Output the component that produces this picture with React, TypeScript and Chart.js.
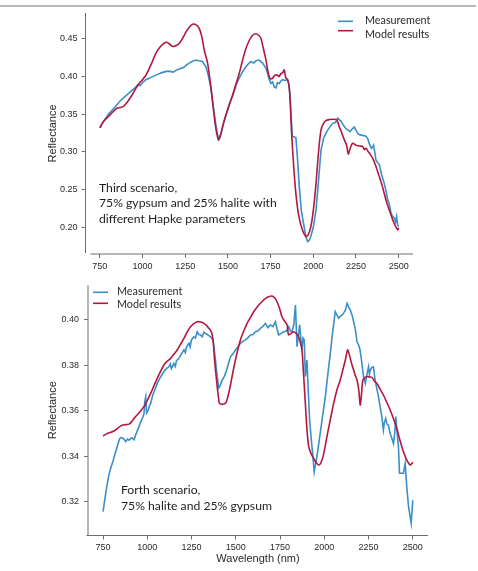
import { useEffect, useRef } from "react";
import { Chart, registerables } from "chart.js";

Chart.register(...registerables);

// ---- Third scenario: 75% gypsum / 25% halite ----
const topMeasurementNm = [750, 770, 800, 844, 870, 900, 930, 960, 975, 985, 1000, 1020, 1050, 1078, 1110, 1137, 1160, 1180, 1200, 1215, 1240, 1260, 1273, 1290, 1312, 1330, 1351, 1371, 1385, 1400, 1415, 1430, 1445, 1460, 1475, 1490, 1510, 1530, 1550, 1566, 1585, 1605, 1620, 1635, 1650, 1664, 1684, 1703, 1723, 1735, 1742, 1752, 1762, 1772, 1781, 1790, 1801, 1810, 1820, 1835, 1849, 1856, 1863, 1870, 1877, 1888, 1898, 1908, 1918, 1930, 1947, 1957, 1967, 1977, 1986, 2000, 2016, 2030, 2045, 2060, 2074, 2090, 2113, 2130, 2143, 2152, 2162, 2175, 2191, 2205, 2215, 2230, 2240, 2250, 2262, 2270, 2290, 2309, 2320, 2328, 2340, 2348, 2353, 2360, 2367, 2387, 2400, 2416, 2426, 2436, 2445, 2455, 2465, 2475, 2482, 2488, 2494, 2500];
const topMeasurementRefl = [0.332, 0.340, 0.350, 0.361, 0.368, 0.374, 0.380, 0.386, 0.390, 0.388, 0.392, 0.396, 0.399, 0.402, 0.405, 0.407, 0.407, 0.406, 0.409, 0.410, 0.412, 0.416, 0.418, 0.420, 0.422, 0.421, 0.420, 0.413, 0.402, 0.385, 0.360, 0.335, 0.317, 0.325, 0.338, 0.350, 0.365, 0.376, 0.390, 0.398, 0.406, 0.413, 0.417, 0.420, 0.418, 0.421, 0.422, 0.418, 0.411, 0.402, 0.396, 0.391, 0.393, 0.386, 0.385, 0.392, 0.391, 0.394, 0.396, 0.395, 0.396, 0.390, 0.378, 0.350, 0.321, 0.320, 0.319, 0.290, 0.254, 0.222, 0.200, 0.187, 0.181, 0.183, 0.188, 0.200, 0.223, 0.260, 0.302, 0.318, 0.325, 0.331, 0.338, 0.339, 0.345, 0.343, 0.341, 0.336, 0.331, 0.329, 0.327, 0.331, 0.333, 0.329, 0.324, 0.323, 0.322, 0.321, 0.317, 0.311, 0.305, 0.307, 0.309, 0.300, 0.289, 0.283, 0.270, 0.258, 0.248, 0.236, 0.231, 0.219, 0.214, 0.212, 0.207, 0.214, 0.203, 0.201];

const topModelNm = [750, 770, 800, 830, 850, 870, 890, 910, 940, 960, 980, 1000, 1020, 1050, 1078, 1105, 1137, 1155, 1176, 1195, 1215, 1235, 1254, 1275, 1293, 1312, 1332, 1348, 1361, 1371, 1381, 1390, 1400, 1410, 1420, 1432, 1445, 1457, 1469, 1488, 1500, 1518, 1540, 1566, 1585, 1605, 1625, 1645, 1664, 1680, 1693, 1705, 1715, 1723, 1732, 1742, 1752, 1762, 1775, 1791, 1800, 1810, 1820, 1830, 1835, 1840, 1850, 1859, 1866, 1873, 1885, 1898, 1915, 1937, 1957, 1970, 1986, 2000, 2016, 2030, 2045, 2060, 2074, 2095, 2113, 2133, 2143, 2152, 2167, 2182, 2195, 2205, 2215, 2230, 2250, 2270, 2290, 2300, 2309, 2320, 2330, 2348, 2365, 2387, 2405, 2426, 2445, 2465, 2480, 2494, 2500];
const topModelRefl = [0.332, 0.340, 0.347, 0.354, 0.358, 0.359, 0.361, 0.366, 0.376, 0.384, 0.391, 0.396, 0.402, 0.416, 0.431, 0.440, 0.4456, 0.444, 0.440, 0.441, 0.444, 0.451, 0.459, 0.466, 0.4695, 0.469, 0.464, 0.452, 0.436, 0.427, 0.418, 0.404, 0.387, 0.367, 0.347, 0.328, 0.316, 0.322, 0.334, 0.349, 0.357, 0.369, 0.385, 0.404, 0.421, 0.437, 0.448, 0.455, 0.457, 0.455, 0.451, 0.440, 0.430, 0.422, 0.410, 0.400, 0.397, 0.398, 0.402, 0.402, 0.400, 0.404, 0.405, 0.409, 0.403, 0.398, 0.396, 0.386, 0.360, 0.325, 0.282, 0.245, 0.215, 0.196, 0.1876, 0.190, 0.201, 0.222, 0.258, 0.298, 0.329, 0.338, 0.3416, 0.343, 0.3434, 0.343, 0.340, 0.3336, 0.325, 0.316, 0.309, 0.2973, 0.304, 0.3115, 0.309, 0.308, 0.307, 0.303, 0.305, 0.301, 0.298, 0.2916, 0.282, 0.267, 0.254, 0.236, 0.223, 0.210, 0.202, 0.1965, 0.1996];

const topYTicks = [0.2, 0.25, 0.3, 0.35, 0.4, 0.45];
const topNote = ["Third scenario,", "75% gypsum and 25% halite with", "different Hapke parameters"];

// ---- Forth scenario: 75% halite / 25% gypsum ----
const bottomMeasurementNm = [750, 762, 774, 784, 793, 807, 821, 833, 844, 852, 859, 868, 878, 888, 897, 906, 915, 925, 934, 943, 953, 962, 972, 981, 986, 991, 996, 1005, 1012, 1019, 1028, 1038, 1047, 1056, 1066, 1080, 1094, 1108, 1122, 1130, 1136, 1150, 1158, 1165, 1179, 1193, 1207, 1215, 1221, 1235, 1242, 1249, 1263, 1272, 1282, 1291, 1301, 1310, 1320, 1329, 1339, 1348, 1357, 1372, 1385, 1392, 1398, 1403, 1408, 1415, 1423, 1432, 1442, 1456, 1470, 1484, 1498, 1512, 1526, 1540, 1554, 1568, 1583, 1597, 1611, 1625, 1639, 1653, 1667, 1681, 1695, 1710, 1724, 1733, 1742, 1756, 1771, 1785, 1799, 1808, 1818, 1828, 1837, 1846, 1854, 1861, 1868, 1874, 1880, 1887, 1893, 1902, 1910, 1917, 1927, 1936, 1943, 1949, 1955, 1966, 1977, 1991, 2006, 2020, 2034, 2048, 2062, 2072, 2081, 2090, 2100, 2110, 2119, 2129, 2138, 2147, 2157, 2166, 2175, 2185, 2194, 2200, 2208, 2215, 2222, 2232, 2241, 2250, 2255, 2260, 2269, 2278, 2287, 2296, 2306, 2315, 2325, 2334, 2340, 2347, 2355, 2362, 2372, 2381, 2391, 2398, 2404, 2412, 2419, 2425, 2436, 2447, 2457, 2466, 2476, 2484, 2491, 2500];
const bottomMeasurementRefl = [0.3156, 0.322, 0.328, 0.332, 0.3347, 0.338, 0.342, 0.345, 0.3478, 0.3482, 0.348, 0.3475, 0.3464, 0.3475, 0.347, 0.3478, 0.348, 0.3472, 0.3493, 0.351, 0.353, 0.355, 0.3566, 0.3585, 0.364, 0.366, 0.359, 0.3603, 0.362, 0.3632, 0.366, 0.3684, 0.370, 0.372, 0.3735, 0.3755, 0.3771, 0.3785, 0.3793, 0.3805, 0.3785, 0.3808, 0.3795, 0.382, 0.383, 0.385, 0.3867, 0.3855, 0.388, 0.3896, 0.388, 0.391, 0.3925, 0.392, 0.3947, 0.3935, 0.3933, 0.3925, 0.3945, 0.394, 0.3935, 0.393, 0.3925, 0.3911, 0.3823, 0.377, 0.3735, 0.370, 0.3705, 0.3718, 0.3735, 0.3745, 0.3764, 0.380, 0.3837, 0.385, 0.3867, 0.388, 0.3896, 0.3905, 0.3911, 0.392, 0.3933, 0.3935, 0.3947, 0.395, 0.3962, 0.397, 0.3984, 0.3965, 0.3977, 0.397, 0.3991, 0.396, 0.3933, 0.394, 0.3947, 0.395, 0.3969, 0.395, 0.3947, 0.398, 0.4064, 0.3881, 0.393, 0.3977, 0.391, 0.3867, 0.392, 0.3911, 0.375, 0.3823, 0.368, 0.3559, 0.347, 0.3398, 0.3332, 0.336, 0.3383, 0.344, 0.350, 0.358, 0.3662, 0.376, 0.3852, 0.395, 0.4035, 0.402, 0.4006, 0.4015, 0.402, 0.403, 0.4042, 0.4072, 0.4055, 0.4042, 0.402, 0.3991, 0.396, 0.3903, 0.3889, 0.3875, 0.3837, 0.379, 0.3749, 0.372, 0.376, 0.3793, 0.376, 0.3779, 0.379, 0.3793, 0.3735, 0.370, 0.3662, 0.362, 0.3574, 0.3515, 0.355, 0.3566, 0.354, 0.3537, 0.350, 0.348, 0.3456, 0.350, 0.3574, 0.350, 0.3442, 0.3325, 0.3325, 0.3325, 0.3368, 0.3266, 0.3178, 0.314, 0.3105, 0.3207];

const bottomModelNm = [750, 774, 812, 850, 870, 897, 915, 934, 958, 981, 1000, 1019, 1038, 1056, 1075, 1094, 1113, 1132, 1150, 1169, 1188, 1207, 1225, 1244, 1263, 1282, 1301, 1320, 1334, 1348, 1360, 1367, 1374, 1380, 1388, 1395, 1402, 1408, 1420, 1432, 1440, 1447, 1458, 1470, 1484, 1498, 1512, 1526, 1545, 1564, 1583, 1601, 1620, 1639, 1658, 1677, 1691, 1705, 1720, 1733, 1747, 1761, 1775, 1790, 1795, 1799, 1813, 1827, 1841, 1855, 1865, 1874, 1883, 1893, 1902, 1912, 1926, 1940, 1954, 1968, 1980, 1993, 2004, 2015, 2034, 2053, 2071, 2090, 2105, 2119, 2132, 2140, 2147, 2157, 2166, 2175, 2185, 2195, 2203, 2210, 2218, 2230, 2241, 2255, 2269, 2283, 2297, 2315, 2334, 2353, 2372, 2391, 2410, 2424, 2438, 2452, 2466, 2476, 2485, 2492, 2500];
const bottomModelRefl = [0.3489, 0.350, 0.3511, 0.3533, 0.3538, 0.3541, 0.3555, 0.3574, 0.3595, 0.3618, 0.3645, 0.3676, 0.371, 0.3742, 0.3773, 0.3801, 0.3818, 0.383, 0.3848, 0.3867, 0.3892, 0.3918, 0.3945, 0.3969, 0.3983, 0.3991, 0.399, 0.3984, 0.3975, 0.3962, 0.395, 0.3933, 0.389, 0.3823, 0.376, 0.3705, 0.366, 0.3632, 0.3628, 0.3629, 0.3632, 0.3639, 0.367, 0.3713, 0.377, 0.3823, 0.387, 0.3911, 0.395, 0.3984, 0.401, 0.4035, 0.4055, 0.4072, 0.4087, 0.4098, 0.4102, 0.4104, 0.4095, 0.4079, 0.405, 0.4013, 0.3995, 0.3977, 0.3945, 0.3933, 0.394, 0.3947, 0.394, 0.3925, 0.390, 0.3867, 0.376, 0.3632, 0.352, 0.3442, 0.341, 0.339, 0.3372, 0.3361, 0.337, 0.3398, 0.344, 0.3486, 0.356, 0.3632, 0.369, 0.3735, 0.378, 0.3823, 0.3867, 0.385, 0.383, 0.380, 0.3779, 0.3755, 0.3735, 0.369, 0.3625, 0.367, 0.3735, 0.3745, 0.375, 0.3748, 0.3747, 0.373, 0.372, 0.3695, 0.3669, 0.3637, 0.3603, 0.3565, 0.3522, 0.348, 0.3442, 0.341, 0.3383, 0.337, 0.3361, 0.3365, 0.3373];

const bottomYTicks = [0.32, 0.34, 0.36, 0.38, 0.4];
const bottomNote = ["Forth scenario,", "75% halite and 25% gypsum"];

const wavelengthTicks = [750, 1000, 1250, 1500, 1750, 2000, 2250, 2500];
const seriesNames = ["Measurement", "Model results"];

const BLUE = "#3b8fc7";
const RED = "#b2173f";
const AXIS = "#6e6e6e";
const TEXT = "#2a2a2a";
const SANS = "'Liberation Sans', Arial, sans-serif";
const CALIBRI_LIKE = "Lato, 'Open Sans', sans-serif";

const toPoints = (xs: number[], ys: number[]) => xs.map((x, i) => ({ x, y: ys[i] }));

// R-style axis lines: left and bottom only, optionally not meeting at the corner
const axisLinesPlugin = {
  id: "axisLines",
  afterDraw(chart: any, _args: any, opts: any) {
    const { ctx, chartArea: a } = chart;
    ctx.save();
    ctx.strokeStyle = AXIS;
    ctx.lineWidth = 1;
    ctx.beginPath();
    ctx.moveTo(a.left, a.top);
    ctx.lineTo(a.left, a.bottom - (opts.yGap || 0));
    ctx.moveTo(a.left + (opts.xGap || 0), a.bottom);
    ctx.lineTo(a.right, a.bottom);
    ctx.stroke();
    ctx.restore();
  },
};

// Line-sample legend, drawn from the datasets themselves
const sampleLegendPlugin = {
  id: "sampleLegend",
  afterDraw(chart: any, _args: any, opts: any) {
    const { ctx } = chart;
    ctx.save();
    ctx.font = `${opts.fontSize}px ${CALIBRI_LIKE}`;
    ctx.textBaseline = "middle";
    ctx.textAlign = "left";
    chart.data.datasets.forEach((ds: any, i: number) => {
      ctx.strokeStyle = ds.borderColor;
      ctx.lineWidth = 1.6;
      ctx.beginPath();
      ctx.moveTo(opts.x0, opts.lineY[i]);
      ctx.lineTo(opts.x1, opts.lineY[i]);
      ctx.stroke();
      ctx.fillStyle = TEXT;
      ctx.fillText(ds.label, opts.textX, opts.textY[i]);
    });
    ctx.restore();
  },
};

// Scenario description written inside the plot
const notePlugin = {
  id: "scenarioNote",
  afterDraw(chart: any, _args: any, opts: any) {
    const { ctx } = chart;
    ctx.save();
    ctx.font = `${opts.fontSize}px ${CALIBRI_LIKE}`;
    ctx.fillStyle = "#1e1e1e";
    ctx.textBaseline = "middle";
    ctx.textAlign = "left";
    opts.lines.forEach((line: string, i: number) => {
      ctx.fillText(line, opts.x, opts.y + i * opts.lineHeight);
    });
    ctx.restore();
  },
};

type PanelProps = {
  width: number;
  height: number;
  measurement: { x: number; y: number }[];
  model: { x: number; y: number }[];
  xMin: number;
  xMax: number;
  yMin: number;
  yMax: number;
  yTicks: number[];
  yAxisWidth: number;
  xAxisHeight: number;
  padTop: number;
  padRight: number;
  yTitlePad: number;
  xTitle: string | null;
  xTitlePad: number;
  xLabelPad: number;
  yLabelPad: number;
  axisGaps: { xGap: number; yGap: number };
  legend: any;
  note: any;
};

function Panel(p: PanelProps) {
  const ref = useRef<HTMLCanvasElement | null>(null);

  useEffect(() => {
    if (!ref.current) return;
    const chart = new Chart(ref.current, {
      type: "line",
      data: {
        datasets: [
          {
            label: seriesNames[0],
            data: p.measurement,
            borderColor: BLUE,
            borderWidth: 1.6,
            pointRadius: 0,
            tension: 0,
            order: 1,
          },
          {
            label: seriesNames[1],
            data: p.model,
            borderColor: RED,
            borderWidth: 1.6,
            pointRadius: 0,
            tension: 0.3,
            order: 0,
          },
        ],
      },
      options: {
        responsive: false,
        animation: false,
        devicePixelRatio: 1,
        events: [],
        layout: { padding: { top: p.padTop, right: p.padRight, left: 0, bottom: 0 } },
        scales: {
          x: {
            type: "linear",
            min: p.xMin,
            max: p.xMax,
            afterBuildTicks: (s: any) => {
              s.ticks = wavelengthTicks.map((v) => ({ value: v }));
            },
            afterFit: (s: any) => {
              s.height = p.xAxisHeight;
            },
            ticks: {
              color: TEXT,
              font: { family: SANS, size: 9 },
              padding: p.xLabelPad,
              maxRotation: 0,
              autoSkip: false,
              callback: (v: any) => String(v),
            },
            grid: { display: true, drawOnChartArea: false, drawTicks: true, tickLength: 4, color: AXIS },
            border: { display: false },
            title: {
              display: !!p.xTitle,
              text: p.xTitle || "",
              color: TEXT,
              font: { family: SANS, size: 11 },
              padding: { top: 0, bottom: p.xTitlePad },
            },
          },
          y: {
            type: "linear",
            min: p.yMin,
            max: p.yMax,
            afterBuildTicks: (s: any) => {
              s.ticks = p.yTicks.map((v) => ({ value: v }));
            },
            afterFit: (s: any) => {
              s.width = p.yAxisWidth;
            },
            ticks: {
              color: TEXT,
              font: { family: SANS, size: 9 },
              padding: p.yLabelPad,
              autoSkip: false,
              callback: (v: any) => Number(v).toFixed(2),
            },
            grid: { display: true, drawOnChartArea: false, drawTicks: true, tickLength: 4, color: AXIS },
            border: { display: false },
            title: {
              display: true,
              text: "Reflectance",
              color: TEXT,
              font: { family: SANS, size: 11 },
              padding: { top: p.yTitlePad, bottom: 0 },
            },
          },
        },
        plugins: {
          legend: { display: false },
          tooltip: { enabled: false },
          axisLines: p.axisGaps,
          sampleLegend: p.legend,
          scenarioNote: p.note,
        } as any,
      },
      plugins: [axisLinesPlugin, sampleLegendPlugin, notePlugin],
    } as any);
    return () => chart.destroy();
  }, []);

  return <canvas ref={ref} width={p.width} height={p.height} style={{ display: "block" }} />;
}

export default function App() {
  const topH = 274;
  const bottomH = 571 - topH;
  return (
    <div
      style={{
        position: "fixed",
        left: 0,
        top: 0,
        width: 478,
        height: 571,
        background: "#ffffff",
        overflow: "hidden",
      }}
    >
      <div
        style={{
          position: "absolute",
          left: 0,
          top: 5,
          width: 476,
          height: 2,
          background: "#b9b9b9",
        }}
      />
      <div style={{ position: "absolute", left: 0, top: 0 }}>
        <Panel
          width={478}
          height={topH}
          measurement={toPoints(topMeasurementNm, topMeasurementRefl)}
          model={toPoints(topModelNm, topModelRefl)}
          xMin={666}
          xMax={2584}
          yMin={0.1645}
          yMax={0.4845}
          yTicks={topYTicks}
          yAxisWidth={85.5}
          xAxisHeight={topH - 254}
          padTop={13}
          padRight={65}
          yTitlePad={46.4}
          xTitle={null}
          xTitlePad={0}
          xLabelPad={3.5}
          yLabelPad={4}
          axisGaps={{ xGap: 5, yGap: 1 }}
          legend={{ fontSize: 10.8, x0: 338, x1: 353, lineY: [21.3, 30.7], textX: 365, textY: [21, 34.7] }}
          note={{ fontSize: 12.2, x: 99, y: 188, lineHeight: 15.5, lines: topNote }}
        />
      </div>
      <div style={{ position: "absolute", left: 0, top: topH }}>
        <Panel
          width={478}
          height={bottomH}
          measurement={toPoints(bottomMeasurementNm, bottomMeasurementRefl)}
          model={toPoints(bottomModelNm, bottomModelRefl)}
          xMin={665}
          xMax={2586}
          yMin={0.30514}
          yMax={0.41525}
          yTicks={bottomYTicks}
          yAxisWidth={88}
          xAxisHeight={bottomH - (535.5 - topH)}
          padTop={285 - topH}
          padRight={478 - 428}
          yTitlePad={46.7}
          xTitle="Wavelength (nm)"
          xTitlePad={5}
          xLabelPad={3}
          yLabelPad={5}
          axisGaps={{ xGap: -1.5, yGap: 0 }}
          legend={{ fontSize: 10.8, x0: 93, x1: 108, lineY: [292.3 - topH, 303.3 - topH], textX: 117, textY: [291.7 - topH, 305 - topH] }}
          note={{ fontSize: 12.2, x: 121, y: 490 - topH, lineHeight: 16, lines: bottomNote }}
        />
      </div>
    </div>
  );
}
